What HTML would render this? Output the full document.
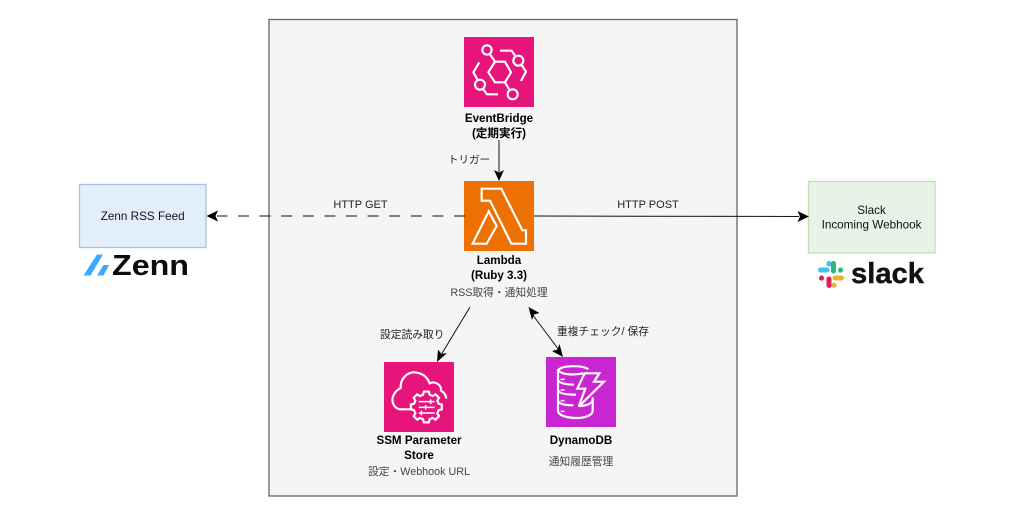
<!DOCTYPE html>
<html>
<head>
<meta charset="utf-8">
<style>
html,body{margin:0;padding:0;background:#fff;width:1017px;height:514px;overflow:hidden}
svg{display:block}
text{font-family:"Liberation Sans","Noto Sans CJK JP",sans-serif;font-size:10.75px;fill:#222}
.b{font-weight:bold;fill:#000;font-size:11.6px}
.g{fill:#444}
.m{text-anchor:middle}
.bx{font-size:11.7px;fill:#111}
.ic{fill:none;stroke:#fff;stroke-width:6.5;stroke-linejoin:miter}
</style>
</head>
<body>
<svg width="1017" height="514" viewBox="0 0 1017 514" xmlns="http://www.w3.org/2000/svg">
<rect width="1017" height="514" fill="#fff"/>
<rect x="269" y="19.5" width="468" height="476.5" fill="#f5f5f5" stroke="#666" stroke-width="1.3"/>

<!-- boxes -->
<rect x="79.5" y="184.5" width="126.5" height="63" fill="#e2eefa" stroke="#a9c4e4" stroke-width="1.3"/>
<text class="m bx" x="142.7" y="219.8">Zenn RSS Feed</text>
<rect x="808.5" y="181.5" width="126.5" height="71.5" fill="#e6f3e6" stroke="#bfe0b4" stroke-width="1.3"/>
<text class="m bx" x="871.5" y="214">Slack</text>
<text class="m bx" x="871.5" y="228.5">Incoming Webhook</text>

<!-- Zenn logo -->
<path d="M83.5 275.5 L97 254.5 H103 L90.5 275.5 Z M97 275.5 L103.5 265 H109 L103.5 275.5 Z" fill="#3ea8ff"/>
<text x="112" y="275" textLength="77" lengthAdjust="spacingAndGlyphs" style="font-size:29px;font-weight:bold;fill:#0b0b0b">Zenn</text>

<!-- Slack logo -->
<rect x="806" y="254" width="127" height="42" fill="#fff"/>
<g fill="none" stroke-width="5" stroke-linecap="round">
<path d="M820.5 270 H827" stroke="#36c5f0"/>
<path d="M829 263.5 V264" stroke="#36c5f0"/>
<path d="M833.5 263.5 V271" stroke="#2eb67d"/>
<path d="M840.5 270 V270.2" stroke="#2eb67d"/>
<path d="M835 278 H841.5" stroke="#ecb22e"/>
<path d="M834 285 V285.2" stroke="#ecb22e"/>
<path d="M829 279 V285.5" stroke="#e01e5a"/>
<path d="M821.5 278 V278.2" stroke="#e01e5a"/>
</g>
<text x="851" y="283" textLength="73" lengthAdjust="spacingAndGlyphs" style="font-size:29px;font-weight:bold;fill:#111;stroke:#111;stroke-width:.4">slack</text>

<!-- EventBridge -->
<rect x="464" y="37" width="70" height="70" fill="#e7157b"/>
<g transform="translate(440,20) scale(.3333)" class="ic">
<path d="M145 157 L165 125 H195 L213 157 L195 187 H165 Z"/>
<circle cx="141" cy="90" r="14"/><circle cx="235" cy="122" r="15"/><circle cx="120" cy="194" r="15"/><circle cx="218" cy="223" r="15"/>
<path d="M150 103 L165 125 M180 92 H215 L225 107 M245 135 L258 155 L243 183 M118 127 L100 157 L112 178 M130 208 L141 223 H174 M195 187 L208 209"/>
</g>
<text class="b m" x="499" y="122">EventBridge</text>
<text class="b m" x="499" y="137">(定期実行)</text>

<!-- Lambda -->
<rect x="464" y="181" width="70" height="70" fill="#ed7100"/>
<g transform="translate(440,150) scale(.3333)" class="ic">
<path d="M125 116 H184 L247 241 H258 V281 H214 L150 152 H125 Z"/>
<path d="M146 184 L170 228 L140 281 H98 Z"/>
</g>
<text class="b m" x="499" y="264">Lambda</text>
<text class="b m" x="499" y="279">(Ruby 3.3)</text>
<text class="g m" x="499" y="296">RSS取得・通知処理</text>

<!-- SSM -->
<rect x="384" y="362" width="70" height="70" fill="#e7157b"/>
<g transform="translate(360,350) scale(.3333)" class="ic">
<path d="M158 178 H122 C100 176 90 150 104 130 C108 122 115 118 122 114 C120 85 145 62 170 68 C190 71 203 84 209 100 C225 92 245 105 243 122 C252 127 258 135 259 146"/>
<path transform="translate(199,171)" d="M36.7 -9.8 L46.4 -7.4 V7.4 L36.7 9.8 L32.9 19 L38 27.6 L27.6 38 L19 32.9 L9.8 36.7 L7.4 46.4 H-7.4 L-9.8 36.7 L-19 32.9 L-27.6 38 L-38 27.6 L-32.9 19 L-36.7 9.8 L-46.4 7.4 V-7.4 L-36.7 -9.8 L-32.9 -19 L-38 -27.6 L-27.6 -38 L-19 -32.9 L-9.8 -36.7 L-7.4 -46.4 H7.4 L9.8 -36.7 L19 -32.9 L27.6 -38 L38 -27.6 L32.9 -19 Z"/>
<g stroke-width="4.5">
<path d="M176 155 H224 M176 172 H224 M176 189 H224"/>
<path d="M212 148 V162 M197 165 V179 M184 182 V196"/>
</g>
</g>
<text class="b m" x="419" y="444">SSM Parameter</text>
<text class="b m" x="419" y="459">Store</text>
<text class="g m" x="419" y="475">設定・Webhook URL</text>

<!-- DynamoDB -->
<rect x="546" y="357" width="70" height="70" fill="#c925d1"/>
<g transform="translate(520,350) scale(.3333)" class="ic">
<path d="M205 58 C190 46 130 44 114 60 V88 C114 98 130 103 162 104"/>
<path d="M114 60 C125 75 160 76 190 70"/>
<path d="M114 88 V118 C114 128 130 134 168 134"/>
<path d="M114 118 V150 C114 160 130 166 160 166"/>
<path d="M114 150 V182 C114 196 140 204 170 204 C195 204 218 196 218 182 V142"/>
<path d="M218 150 C216 162 195 168 178 168"/>
<path d="M194 70 H238 L222 95 H252 L176 170 L196 116 H172 Z"/>
<path d="M122 88 H134 M122 120 H134 M122 152 H134 M122 184 H134" stroke-width="4.5"/>
</g>
<text class="b m" x="581" y="444">DynamoDB</text>
<text class="g m" x="581" y="465">通知履歴管理</text>

<!-- connectors -->
<g fill="none" stroke="#111" stroke-width="1">
<path d="M499 140 V172"/>
<path d="M465 216 H217" stroke-dasharray="11 10.6"/>
<path d="M534 216 L799 216.5"/>
<path d="M470 307 L441 355"/>
<path d="M532 314 L559 350"/>
</g>
<g fill="#000">
<path d="M499 181 L494 170 L499 172.5 L504 170 Z"/>
<path d="M206.5 216 L218 210.5 L215.5 216 L218 221.5 Z"/>
<path d="M809 216.5 L797.5 211 L800 216.5 L797.5 222 Z"/>
<path d="M437 362 L438 349.5 L441.5 354 L447 353 Z"/>
<path d="M528.5 307 L539.5 313 L534 314.5 L532 320 Z"/>
<path d="M563 357 L552 351 L557.5 349.5 L559.5 344 Z"/>
</g>

<!-- connector labels -->
<text x="448" y="163" style="font-size:10.5px">トリガー</text>
<text class="m" x="360.5" y="208" style="font-size:11px">HTTP GET</text>
<text class="m" x="648" y="208" style="font-size:11px">HTTP POST</text>
<text x="380" y="338">設定読み取り</text>
<text x="557" y="335">重複チェック/ 保存</text>
</svg>
</body>
</html>
